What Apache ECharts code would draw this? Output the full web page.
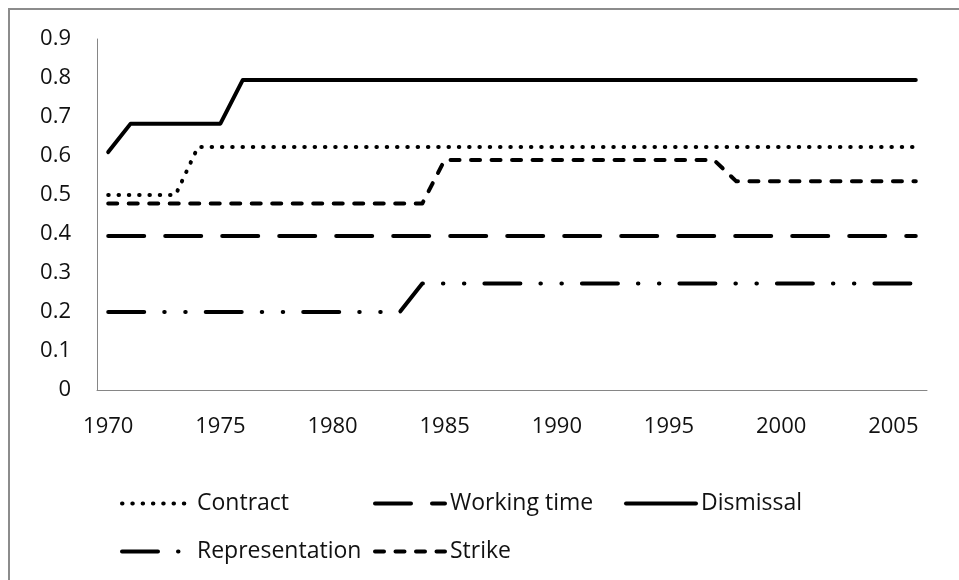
<!DOCTYPE html>
<html>
<head>
<meta charset="utf-8">
<script src="https://cdn.jsdelivr.net/npm/echarts@6/dist/echarts.min.js"></script>
<style>
  html, body { margin: 0; padding: 0; background: #fff; }
  #chart { width: 959px; height: 580px; }
</style>
</head>
<body>
<div id="chart"></div>
<script>
//categories
var years = [
  '1970', '1971', '1972', '1973', '1974', '1975', '1976', '1977', '1978', '1979',
  '1980', '1981', '1982', '1983', '1984', '1985', '1986', '1987', '1988', '1989',
  '1990', '1991', '1992', '1993', '1994', '1995', '1996', '1997', '1998', '1999',
  '2000', '2001', '2002', '2003', '2004', '2005', '2006'
];

//series values, one per year
var contract = [
  0.5, 0.5, 0.5, 0.5, 0.623, 0.623, 0.623, 0.623, 0.623, 0.623,
  0.623, 0.623, 0.623, 0.623, 0.623, 0.623, 0.623, 0.623, 0.623, 0.623,
  0.623, 0.623, 0.623, 0.623, 0.623, 0.623, 0.623, 0.623, 0.623, 0.623,
  0.623, 0.623, 0.623, 0.623, 0.623, 0.623, 0.623
];
var workingTime = [
  0.395, 0.395, 0.395, 0.395, 0.395, 0.395, 0.395, 0.395, 0.395, 0.395,
  0.395, 0.395, 0.395, 0.395, 0.395, 0.395, 0.395, 0.395, 0.395, 0.395,
  0.395, 0.395, 0.395, 0.395, 0.395, 0.395, 0.395, 0.395, 0.395, 0.395,
  0.395, 0.395, 0.395, 0.395, 0.395, 0.395, 0.395
];
var dismissal = [
  0.61, 0.683, 0.683, 0.683, 0.683, 0.683, 0.795, 0.795, 0.795, 0.795,
  0.795, 0.795, 0.795, 0.795, 0.795, 0.795, 0.795, 0.795, 0.795, 0.795,
  0.795, 0.795, 0.795, 0.795, 0.795, 0.795, 0.795, 0.795, 0.795, 0.795,
  0.795, 0.795, 0.795, 0.795, 0.795, 0.795, 0.795
];
var representation = [
  0.2, 0.2, 0.2, 0.2, 0.2, 0.2, 0.2, 0.2, 0.2, 0.2,
  0.2, 0.2, 0.2, 0.2, 0.273, 0.273, 0.273, 0.273, 0.273, 0.273,
  0.273, 0.273, 0.273, 0.273, 0.273, 0.273, 0.273, 0.273, 0.273, 0.273,
  0.273, 0.273, 0.273, 0.273, 0.273, 0.273, 0.273
];
var strike = [
  0.478, 0.478, 0.478, 0.478, 0.478, 0.478, 0.478, 0.478, 0.478, 0.478,
  0.478, 0.478, 0.478, 0.478, 0.478, 0.59, 0.59, 0.59, 0.59, 0.59,
  0.59, 0.59, 0.59, 0.59, 0.59, 0.59, 0.59, 0.59, 0.535, 0.535,
  0.535, 0.535, 0.535, 0.535, 0.535, 0.535, 0.535
];

var FONT = '"Open Sans", sans-serif';
var INK = '#000';
var TEXT = '#111';

//one line series, all black, differing only in dash pattern
function lineSeries(name, data, dash, width) {
  return {
    name: name,
    type: 'line',
    data: data,
    symbol: 'none',
    showSymbol: false,
    animation: false,
    color: INK,
    lineStyle: { color: INK, width: width || 4, type: dash, cap: 'round', join: 'round' }
  };
}

//one legend box per item so the entries sit in fixed columns
function legendAt(name, left, top) {
  return {
    data: [name],
    left: left,
    top: top,
    padding: 0,
    itemWidth: 70,
    itemHeight: 14,
    itemGap: 0,
    selectedMode: false,
    //hide the marker dot, keep the dashed line at full weight
    itemStyle: { opacity: 0 },
    lineStyle: { width: 4, cap: 'round' },
    textStyle: { fontFamily: FONT, fontSize: 23, color: TEXT }
  };
}

var chart = echarts.init(document.getElementById('chart'));

var option = {
  backgroundColor: '#fff',
  animation: false,
  graphic: [{
    type: 'rect',
    shape: { x: 9, y: 9, width: 1200, height: 1200 },
    style: { fill: 'none', stroke: '#8c8c8c', lineWidth: 2 },
    silent: true
  }],
  grid: { left: 97, right: 32, top: 39, bottom: 190 },
  legend: [
    legendAt('Contract', 120, 492),
    legendAt('Working time', 373, 492),
    legendAt('Dismissal', 624, 492),
    legendAt('Representation', 120, 540),
    legendAt('Strike', 373, 540)
  ],
  xAxis: {
    type: 'category',
    data: years,
    boundaryGap: true,
    axisLine: { lineStyle: { color: '#868686', width: 1 } },
    axisTick: { show: false },
    axisLabel: { interval: 4, margin: 26, color: TEXT, fontFamily: FONT, fontSize: 22 },
    splitLine: { show: false }
  },
  yAxis: {
    type: 'value',
    min: 0,
    max: 0.9,
    interval: 0.1,
    axisLine: { show: true, lineStyle: { color: '#868686', width: 1 } },
    axisTick: { show: false },
    splitLine: { show: false },
    axisLabel: {
      margin: 26,
      color: TEXT,
      fontFamily: FONT,
      fontSize: 22,
      formatter: function(v) { return v === 0 ? '0' : v.toFixed(1); }
    }
  },
  series: [
    lineSeries('Contract', contract, [0.5, 9.8]),
    lineSeries('Working time', workingTime, [36, 21]),
    lineSeries('Dismissal', dismissal, 'solid'),
    lineSeries('Representation', representation, [36, 20, 0.5, 20.5, 0.5, 20]),
    lineSeries('Strike', strike, [9, 11.5])
  ]
};

chart.setOption(option);
</script>
</body>
</html>
